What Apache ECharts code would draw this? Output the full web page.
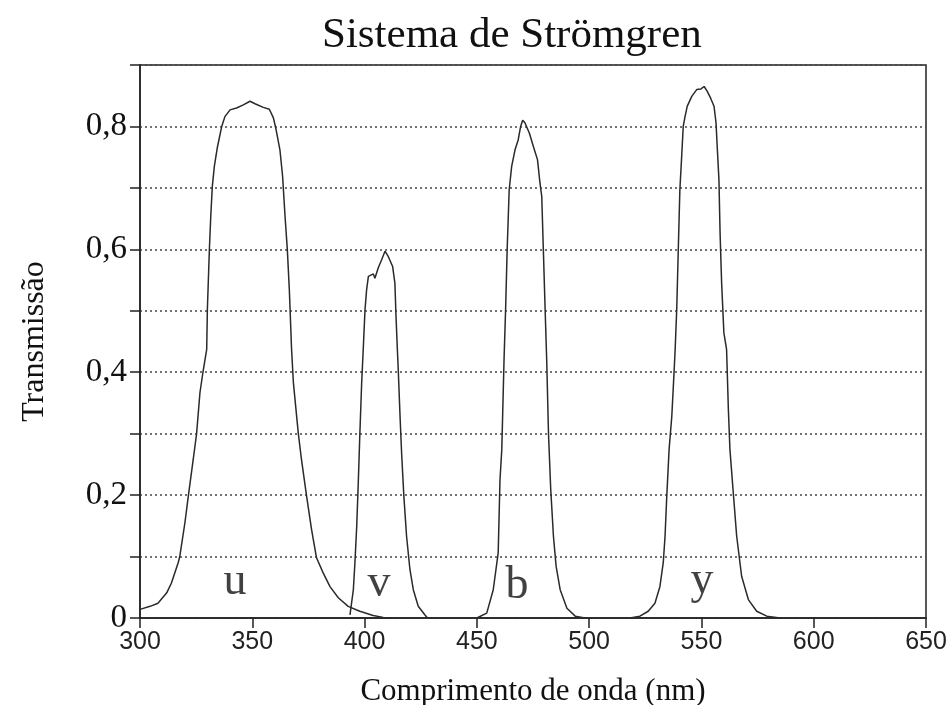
<!DOCTYPE html>
<html>
<head>
<meta charset="utf-8">
<script src="https://cdn.jsdelivr.net/npm/echarts@6/dist/echarts.min.js"></script>
<style>html,body{margin:0;padding:0;background:#fff}#c{width:952px;height:705px}</style>
</head>
<body>
<div id="c"></div>
<script>
var titleText = 'Sistema de Strömgren';
var xName = 'Comprimento de onda (nm)';
var yName = 'Transmissão';

var uWave = [300,304.5,308,311.9,314,317,317.7,320,321.5,323.7,325.2,326.7,328.2,329.7,330.0,330.9,331.5,332.2,333.1,334.5,336.4,337.8,340.1,343.0,346,349,351.2,354.9,357.6,359.4,360.6,362.3,363.5,364.6,365.6,366.5,367.5,368.3,370.5,371.9,374.2,376.4,378.6,381.6,384.6,388.3,392.7,397.9,403.8,408.3,412];
var uTrans = [0.014,0.019,0.024,0.041,0.057,0.09,0.10,0.155,0.198,0.258,0.30,0.367,0.404,0.437,0.502,0.60,0.653,0.702,0.735,0.767,0.80,0.816,0.827,0.83,0.835,0.841,0.837,0.831,0.828,0.814,0.795,0.762,0.719,0.653,0.60,0.534,0.437,0.383,0.30,0.258,0.198,0.144,0.098,0.073,0.051,0.033,0.019,0.011,0.004,0.001,0];

var vWave = [393.5,395,395.7,396.5,397.2,397.9,398.7,399.4,400.2,400.9,401.7,403.9,404.6,406.1,407.6,409.1,410.6,412.5,413.5,414.0,414.6,415.0,415.8,416.5,417.5,418.7,420.2,421.7,423.9,426.9,428];
var vTrans = [0.005,0.046,0.09,0.149,0.22,0.30,0.382,0.437,0.502,0.534,0.556,0.56,0.553,0.57,0.583,0.597,0.588,0.572,0.545,0.491,0.437,0.404,0.328,0.268,0.198,0.133,0.079,0.046,0.019,0.005,0];

var bWave = [450,454.4,457.3,459.5,460.3,461.1,462.1,462.8,463.5,464.4,465.5,467,468.4,469.5,470.4,471.4,473.4,475.2,477,478.1,478.9,479.6,480.4,481.1,481.9,482.9,484.1,485.3,487.1,490.1,493.8,498.2];
var bTrans = [0,0.008,0.046,0.106,0.225,0.274,0.42,0.502,0.60,0.697,0.735,0.762,0.778,0.80,0.81,0.806,0.789,0.767,0.746,0.708,0.686,0.60,0.502,0.42,0.30,0.209,0.133,0.084,0.046,0.016,0.003,0];

var yWave = [518.2,522.6,526.3,529.3,531.5,533,533.8,534.5,535.6,536.8,537.8,538.3,539,539.7,540.4,541.2,541.9,542.7,543.7,545.7,547.9,549.8,551.2,552.6,554.1,555.6,556.5,557.1,557.8,558.3,559,560,561.2,562,562.7,564.2,565.7,567.9,570.9,574.6,579.1,585];
var yTrans = [0,0.003,0.011,0.024,0.051,0.09,0.133,0.193,0.274,0.328,0.399,0.437,0.502,0.60,0.697,0.751,0.80,0.816,0.833,0.849,0.86,0.861,0.865,0.857,0.846,0.833,0.806,0.762,0.713,0.627,0.545,0.464,0.437,0.339,0.274,0.203,0.133,0.068,0.03,0.011,0.003,0];

var filterNames = ['u','v','b','y'];
var filterLabelX = [342.3,406.4,467.9,550.2];
var filterLabelY = [0.058,0.055,0.052,0.06];

function pairs(xs, ys){ return xs.map(function(x,i){ return [x, ys[i]]; }); }

var serif = '"Liberation Serif","Times New Roman",serif';
var lineStyle = {color:'#2a2a2a', width:1.5};

function curve(name, xs, ys){
  return {name:name, type:'line', data:pairs(xs,ys), showSymbol:false, symbol:'none',
    lineStyle:lineStyle, animation:false, silent:true};
}

var chart = echarts.init(document.getElementById('c'), null, {renderer:'canvas'});
chart.setOption({
  backgroundColor:'#fff',
  animation:false,
  title:{text:titleText, left:317, top:9,
    textStyle:{fontFamily:serif, fontSize:43, fontWeight:'normal', color:'#111'}},
  grid:{left:140, right:26, top:65, bottom:87, show:true, borderColor:'#222', borderWidth:1.5,
    containLabel:false, outerBoundsMode:'none'},
  xAxis:{type:'value', min:300, max:650, interval:50,
    name:xName, nameLocation:'middle', nameGap:58,
    nameTextStyle:{fontFamily:serif, fontSize:31, color:'#111'},
    axisLine:{show:true, lineStyle:{color:'#222', width:1.5}},
    axisTick:{show:true, inside:false, length:10, lineStyle:{color:'#222', width:1.5}},
    axisLabel:{margin:12, fontFamily:'"Liberation Sans",Arial,sans-serif', fontSize:25, color:'#222'},
    splitLine:{show:false}},
  yAxis:{type:'value', min:0, max:0.9, interval:0.1,
    name:yName, nameLocation:'middle', nameGap:89, nameRotate:90,
    nameTextStyle:{fontFamily:serif, fontSize:32, color:'#111'},
    axisLine:{show:true, lineStyle:{color:'#222', width:1.5}},
    axisTick:{show:true, inside:false, length:10, lineStyle:{color:'#222', width:1.5}},
    axisLabel:{margin:13, fontFamily:serif, fontSize:33, color:'#111',
      formatter:function(v){
        var k = Math.round(v*10);
        if (k === 0) return '0';
        if (k % 2 === 1) return '';
        return (k/10).toFixed(1).replace('.', ',');
      }},
    splitLine:{show:true, lineStyle:{color:'#444', width:1.5, type:[2,3]}}},
  series:[
    curve('u', uWave, uTrans),
    curve('v', vWave, vTrans),
    curve('b', bWave, bTrans),
    curve('y', yWave, yTrans),
    {type:'scatter', symbolSize:0, silent:true, animation:false,
      data:filterNames.map(function(n,i){ return {name:n, value:[filterLabelX[i], filterLabelY[i]]}; }),
      label:{show:true, position:'inside', formatter:'{b}', fontFamily:serif, fontSize:46, color:'#111'}}
  ]
});
</script>
</body>
</html>
